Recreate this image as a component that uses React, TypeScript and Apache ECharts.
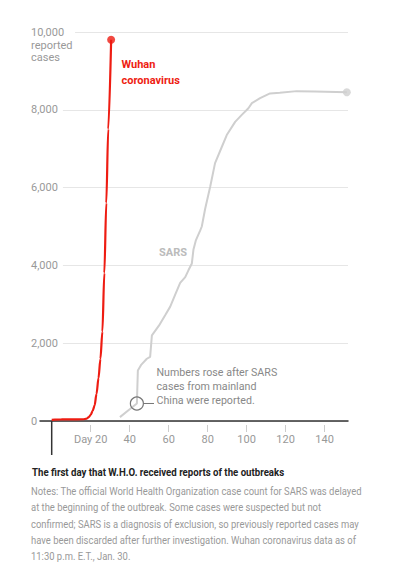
import React, { useEffect, useRef } from "react";
import * as echarts from "echarts";

// ---- data ----
const wuhanDays = [0, 5, 10, 16, 18, 19, 20, 21, 22, 23, 24, 25, 26, 27, 28, 29, 30.5];
const wuhanCases = [30, 40, 41, 45, 60, 100, 160, 260, 400, 700, 1100, 1600, 2300, 3800, 5600, 7500, 9800];

const sarsDays = [35, 40, 43.7, 44.2, 46, 48.8, 50.5, 51.4, 55, 58.2, 60.8, 63.3, 65.9, 68.5, 70.2, 71.9, 72.7, 74, 76.2, 77, 78.7, 81.3, 83.8, 87.3, 89.8, 94.1, 97.5, 100.9, 102.7, 106.9, 112, 117, 125.7, 135, 151.4];
const sarsCases = [100, 300, 450, 1300, 1450, 1600, 1650, 2200, 2450, 2720, 2940, 3240, 3550, 3700, 3880, 4050, 4400, 4650, 4900, 5000, 5450, 6020, 6630, 7050, 7350, 7690, 7870, 8040, 8170, 8300, 8420, 8440, 8480, 8470, 8450];

const xTickDays = [20, 40, 60, 80, 100, 120, 140];
const yTicks = [0, 2000, 4000, 6000, 8000, 10000];

const notesLines = [
  "Notes: The official World Health Organization case count for SARS was delayed",
  "at the beginning of the outbreak. Some cases were suspected but not",
  "confirmed; SARS is a diagnosis of exclusion, so previously reported cases may",
  "have been discarded after further investigation. Wuhan coronavirus data as of",
  "11:30 p.m. E.T., Jan. 30.",
];
const annotationLines = ["Numbers rose after SARS", "cases from mainland", "China were reported."];

const FONT = "Roboto, 'Noto Sans', sans-serif";
const RED = "#ee1c12";

export default function App() {
  const ref = useRef<HTMLDivElement>(null);
  useEffect(() => {
    if (!ref.current) return;
    const chart = echarts.init(ref.current, null, { renderer: "svg" });
    const fmt = (v: number) => v.toLocaleString("en-US");
    const option: any = {
      animation: false,
      backgroundColor: "#fff",
      textStyle: { fontFamily: FONT },
      grid: { left: 40, right: 49, top: 32, bottom: 164 },
      xAxis: [
        {
          type: "value",
          min: -6,
          max: 152,
          axisLine: { show: true, lineStyle: { color: "#333", width: 1.5 } },
          axisTick: { show: false },
          axisLabel: { show: false },
          splitLine: { show: false },
        },
        {
          type: "value",
          min: -6,
          max: 152,
          position: "bottom",
          offset: 4,
          axisLine: { show: false },
          axisTick: { show: true, customValues: xTickDays, length: 7, lineStyle: { color: "#ccc", width: 1 } },
          axisLabel: {
            show: true,
            customValues: xTickDays,
            margin: 9,
            color: "#999",
            fontSize: 11,
            fontFamily: FONT,
            formatter: (v: number) => (v === xTickDays[0] ? "Day " + v : String(v)),
          },
          splitLine: { show: false },
        },
      ],
      yAxis: {
        type: "value",
        min: yTicks[0],
        max: yTicks[yTicks.length - 1],
        interval: 2000,
        axisLine: { show: false },
        axisTick: { show: false },
        splitLine: { show: true, lineStyle: { color: "#e6e6e6", width: 1 } },
        axisLabel: {
          align: "left",
          margin: 9,
          color: "#999",
          fontSize: 11,
          fontFamily: FONT,
          formatter: (v: number) => {
            if (v === 0) return "{z|0}";
            if (v === 10000) return "{t|" + fmt(v) + "}";
            return "{g|" + fmt(v) + "}";
          },
          rich: {
            z: { color: "#999", fontSize: 11, fontFamily: FONT },
            g: { color: "#999", fontSize: 11, fontFamily: FONT, backgroundColor: "#fff", padding: [2, 5, 2, 0] },
            t: { color: "#999", fontSize: 11, fontFamily: FONT, backgroundColor: "#fff", padding: [2, 11, 2, 0] },
          },
        },
      },
      series: [
        {
          type: "line",
          name: "SARS",
          xAxisIndex: 0,
          data: sarsDays.map((d, i) => [d, sarsCases[i]]),
          showSymbol: false,
          symbol: "none",
          lineStyle: { color: "#cfcfcf", width: 2 },
          z: 2,
        },
        {
          type: "scatter",
          xAxisIndex: 0,
          data: [[sarsDays[sarsDays.length - 1], sarsCases[sarsCases.length - 1]]],
          symbolSize: 8,
          itemStyle: { color: "#cfcfcf" },
          z: 3,
        },
        {
          type: "line",
          name: "Wuhan coronavirus",
          xAxisIndex: 0,
          data: wuhanDays.map((d, i) => [d, wuhanCases[i]]),
          smooth: 0.3,
          smoothMonotone: "x",
          showSymbol: false,
          symbol: "none",
          lineStyle: { color: RED, width: 2.2 },
          z: 4,
        },
        {
          type: "scatter",
          xAxisIndex: 0,
          data: [[wuhanDays[wuhanDays.length - 1], wuhanCases[wuhanCases.length - 1]]],
          symbolSize: 8,
          itemStyle: { color: RED },
          z: 5,
        },
      ],
    };
    chart.setOption(option);

    const px = (x: number, y: number) => chart.convertToPixel({ gridIndex: 0 }, [x, y]) as number[];
    const origin = px(0, 0);
    const ann = px(sarsDays[2], sarsCases[2]);
    const r = 6.5;

    const graphic: any[] = [
      {
        type: "line",
        shape: { x1: origin[0], y1: origin[1], x2: origin[0], y2: 455 },
        style: { stroke: "#333", lineWidth: 1.5 },
        z: 10,
      },
      {
        type: "text",
        x: 31,
        y: 39,
        style: { text: "reported\ncases", fill: "#999", fontSize: 11, fontFamily: FONT, lineHeight: 12 },
      },
      {
        type: "text",
        x: 121.5,
        y: 57,
        style: { text: "Wuhan\ncoronavirus", fill: RED, fontSize: 11, fontWeight: "bold", fontFamily: FONT, lineHeight: 15.5 },
      },
      {
        type: "text",
        x: 159,
        y: 252,
        style: { text: "SARS", fill: "#bbb", fontSize: 11, fontWeight: "bold", fontFamily: FONT, verticalAlign: "middle" },
      },
      {
        type: "circle",
        shape: { cx: ann[0], cy: ann[1], r },
        style: { fill: "none", stroke: "#777", lineWidth: 1.2 },
        z: 10,
      },
      {
        type: "line",
        shape: { x1: ann[0] + r, y1: ann[1], x2: 154, y2: ann[1] },
        style: { stroke: "#777", lineWidth: 1 },
        z: 10,
      },
      {
        type: "text",
        x: 156.5,
        y: 366,
        scaleX: 0.97,
        style: { text: annotationLines.join("\n"), fill: "#888", fontSize: 11, fontFamily: FONT, lineHeight: 13.8 },
      },
      {
        type: "text",
        x: 32,
        y: 472.7,
        scaleX: 0.92,
        style: {
          text: "The first day that W.H.O. received reports of the outbreaks",
          fill: "#222",
          fontSize: 10.5,
          fontWeight: "bold",
          fontFamily: FONT,
          verticalAlign: "middle",
        },
      },
      {
        type: "text",
        x: 31,
        y: 483.5,
        scaleX: 0.945,
        style: { text: notesLines.join("\n"), fill: "#999", fontSize: 10, fontFamily: FONT, lineHeight: 16.2 },
      },
    ];
    chart.setOption({ graphic });

    return () => chart.dispose();
  }, []);

  return (
    <div
      ref={ref}
      style={{ position: "fixed", left: 0, top: 0, width: 397, height: 585, background: "#fff" }}
    />
  );
}
